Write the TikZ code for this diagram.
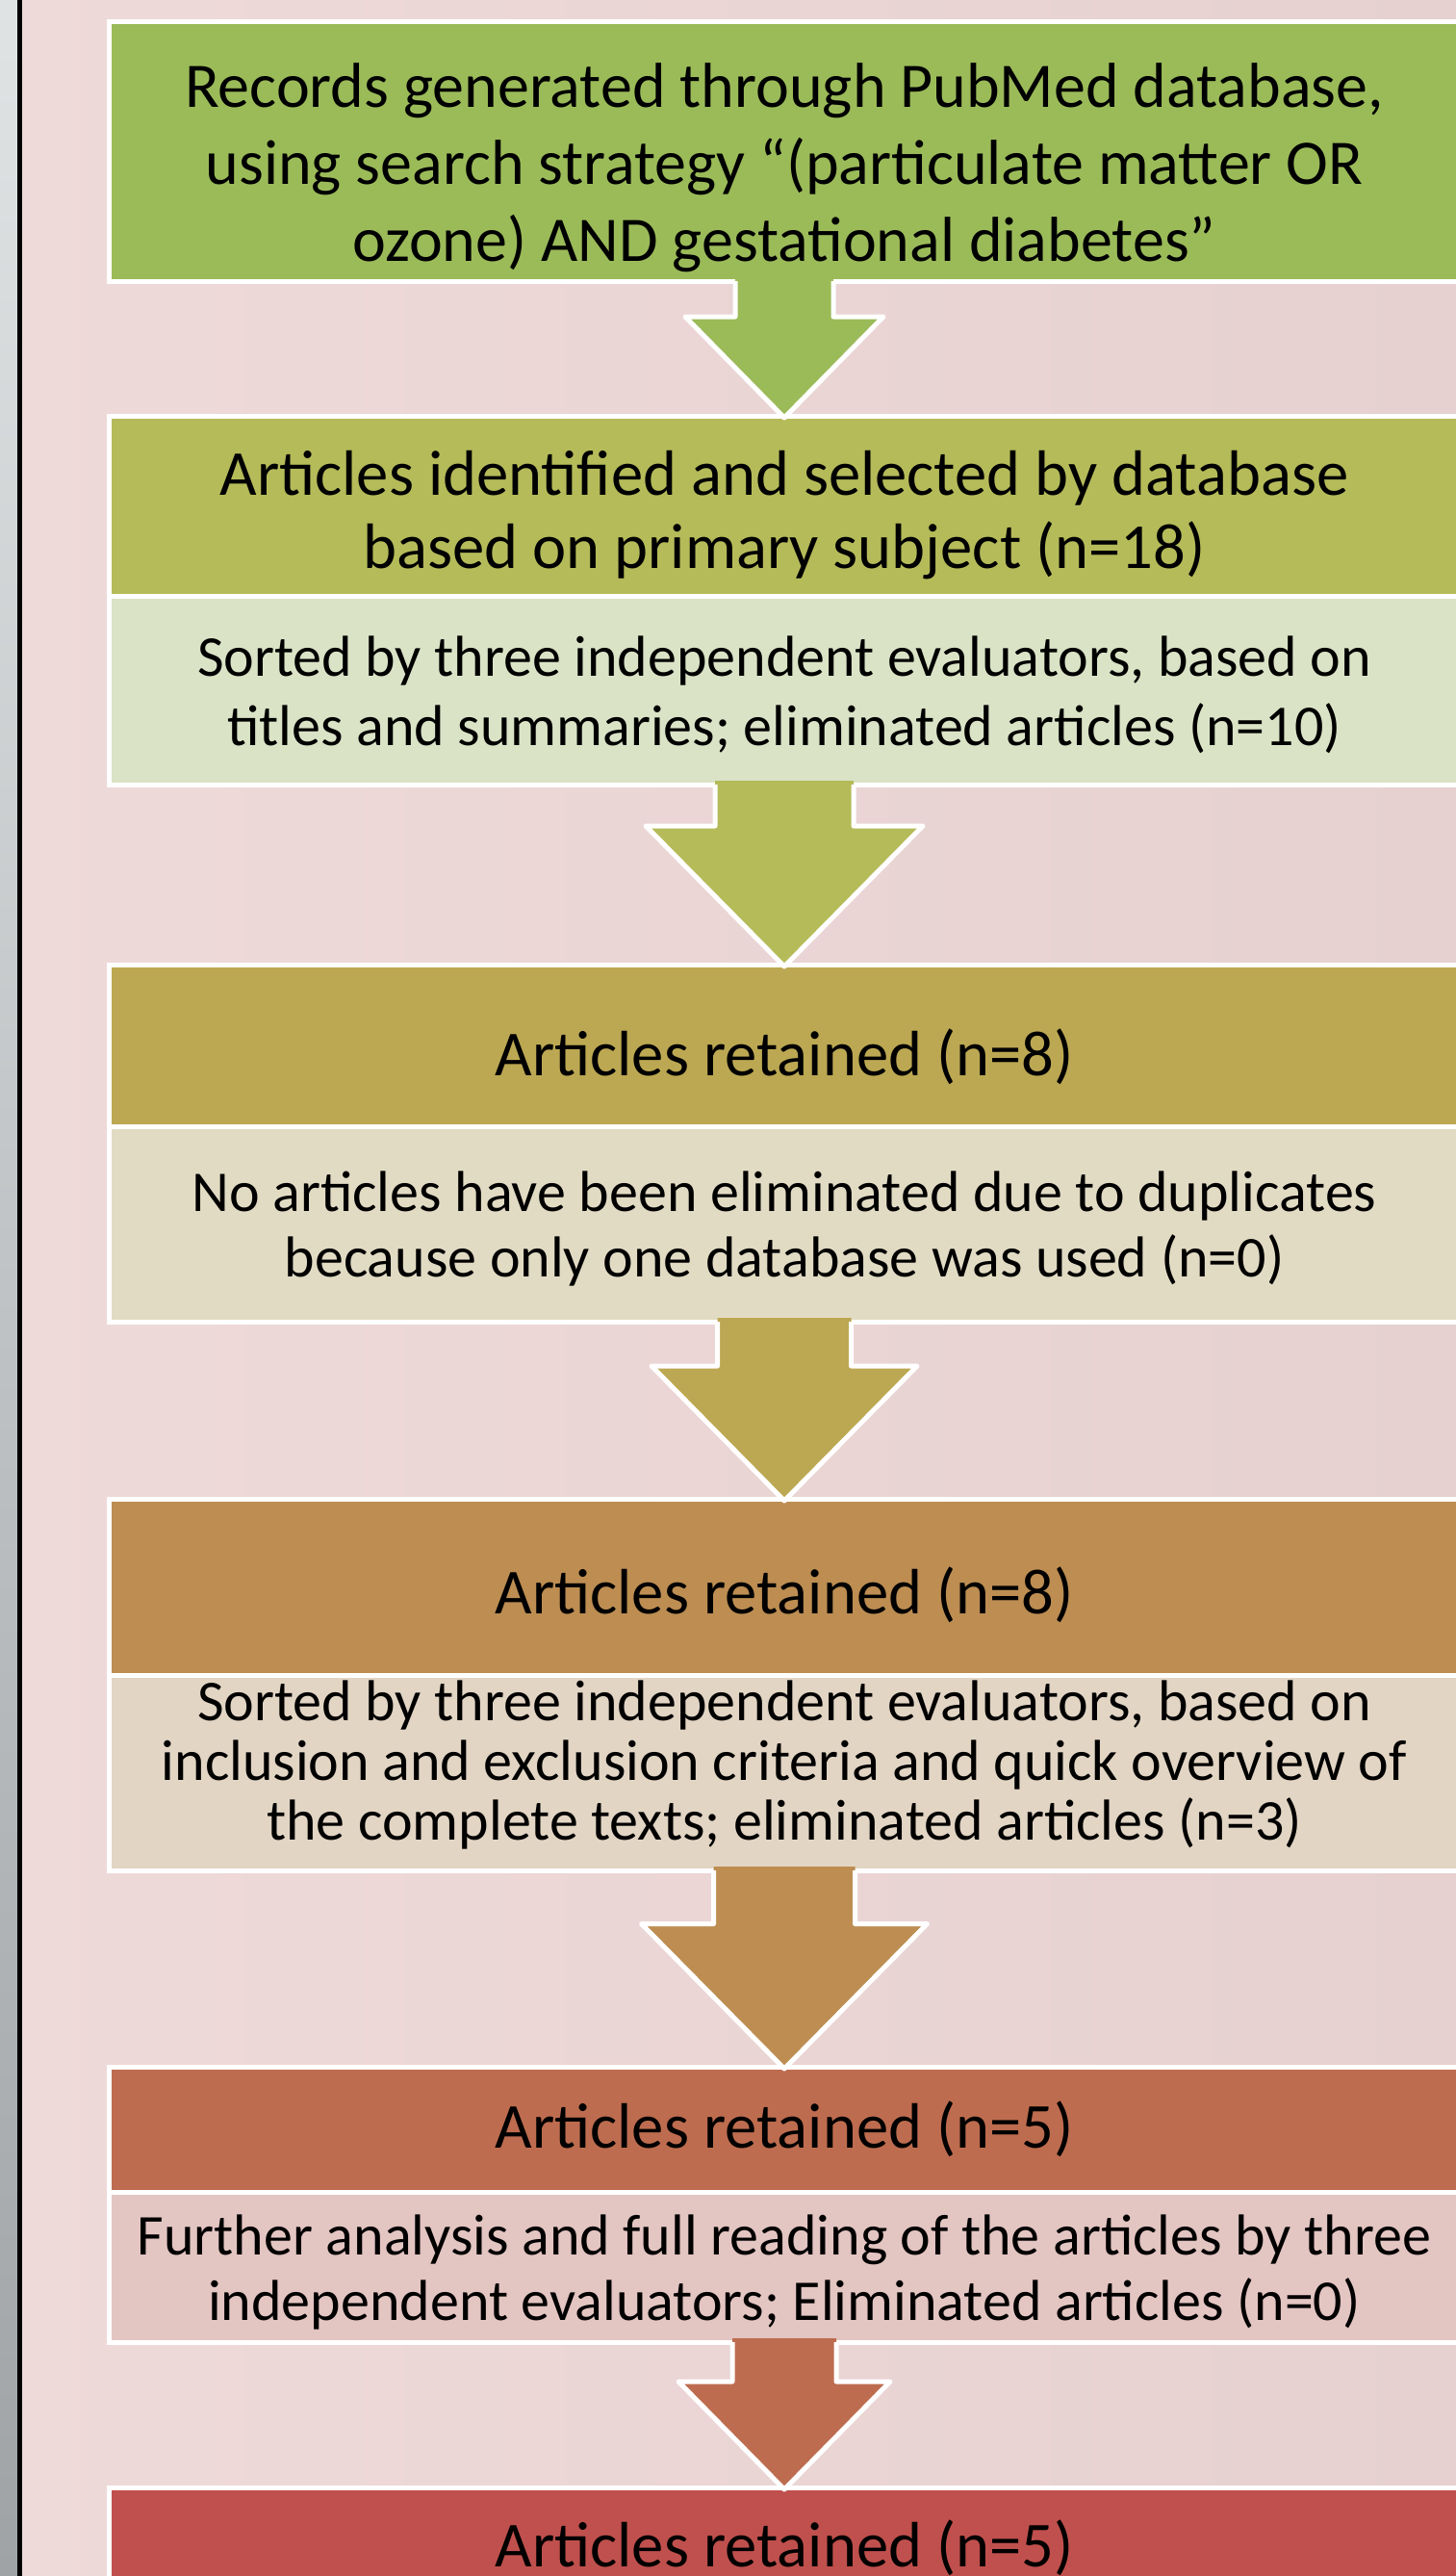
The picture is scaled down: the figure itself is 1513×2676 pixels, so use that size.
\documentclass[tikz,border=0pt]{standalone}
\usepackage{fontspec}
\setmainfont{Carlito}
\usetikzlibrary{calc}
\definecolor{bgL}{HTML}{EFDADA}
\definecolor{bgR}{HTML}{E6D0D0}
\definecolor{stripT}{HTML}{DFE3E4}
\definecolor{stripB}{HTML}{9FA3A6}
\definecolor{cA}{HTML}{9BBB59}
\definecolor{cBh}{HTML}{B5BB59}
\definecolor{cBs}{HTML}{DAE3C6}
\definecolor{cCh}{HTML}{BCA852}
\definecolor{cCs}{HTML}{E2DBC4}
\definecolor{cDh}{HTML}{BD8D52}
\definecolor{cDs}{HTML}{E2D5C4}
\definecolor{cEh}{HTML}{BE6C4F}
\definecolor{cEs}{HTML}{E3C5C2}
\definecolor{cF}{HTML}{C0504D}
\tikzset{
  cardbox/.style={draw=white, line width=2.5pt, minimum width=702pt, inner sep=0pt,
    outer sep=0pt, anchor=north},
  cardtext/.style={inner sep=0pt, align=center, text=black},
}
\newcommand\blockarrow[5]{%
  \fill[#5] ($(#1.south)+(-#3,-4)$) -- ($(#2.north)+(-#3,-#4)$) -- ($(#2.north)+(-#4,-#4)$)
    -- ($(#2.north)+(0,2)$) -- ($(#2.north)+(#4,-#4)$) -- ($(#2.north)+(#3,-#4)$)
    -- ($(#1.south)+(#3,-4)$) -- cycle;
  \draw[white, line width=2.5pt, line join=round] ($(#1.south)+(-#3,0)$) -- ($(#2.north)+(-#3,-#4)$)
    -- ($(#2.north)+(-#4,-#4)$) -- ($(#2.north)+(0,2)$) -- ($(#2.north)+(#4,-#4)$)
    -- ($(#2.north)+(#3,-#4)$) -- ($(#1.south)+(#3,0)$);
}
\begin{document}
\begin{tikzpicture}[x=0.5pt,y=-0.5pt]
\useasboundingbox (0,0) rectangle (1513,2676);
\begin{scope}
\clip (0,0) rectangle (1513,2676);
\shade[left color=bgL, right color=bgR] (0,0) rectangle (1513,2676);
\shade[top color=stripT, bottom color=stripB] (0,0) rectangle (18,2676);
\fill[black] (18,0) rectangle (23,2676);

% boxes
\node[cardbox, fill=cA, minimum height=134.5pt] (b1) at (815,23) {};
\node[cardbox, fill=cBh, minimum height=93.5pt] (b2h) at (815,432) {};
\node[cardbox, fill=cBs, minimum height=98pt] (b2s) at (815,619) {};
\node[cardbox, fill=cCh, minimum height=84pt] (b3h) at (815,1002) {};
\node[cardbox, fill=cCs, minimum height=101.5pt] (b3s) at (815,1170) {};
\node[cardbox, fill=cDh, minimum height=91.5pt] (b4h) at (815,1557) {};
\node[cardbox, fill=cDs, minimum height=101.5pt] (b4s) at (815,1740) {};
\node[cardbox, fill=cEh, minimum height=65pt] (b5h) at (815,2147) {};
\node[cardbox, fill=cEs, minimum height=78pt] (b5s) at (815,2277) {};
\node[cardbox, fill=cF, minimum height=65pt] (b6) at (815,2584) {};

% texts
\node[cardtext, font=\fontsize{33}{40}\selectfont] (t1) at ($(b1.center)+(0,17)$)
  {Records generated through PubMed database,\\using search strategy “(particulate matter OR\\ozone) AND gestational diabetes”};
\node[cardtext, font=\fontsize{33.3}{38}\selectfont] (t2h) at ($(b2h.center)+(0,10)$)
  {Articles identified and selected by database\\based on primary subject (n=18)};
\node[cardtext, font=\fontsize{30}{36}\selectfont] (t2s) at ($(b2s.center)+(0,5)$)
  {Sorted by three independent evaluators, based on\\titles and summaries; eliminated articles (n=10)};
\node[cardtext, font=\fontsize{33.3}{40}\selectfont] (t3h) at ($(b3h.center)+(0,12)$)
  {Articles retained (n=8)};
\node[cardtext, font=\fontsize{30}{34}\selectfont] (t3s) at ($(b3s.center)+(0,5)$)
  {No articles have been eliminated due to duplicates\\because only one database was used (n=0)};
\node[cardtext, font=\fontsize{33.3}{40}\selectfont] (t4h) at ($(b4h.center)+(0,8)$)
  {Articles retained (n=8)};
\node[cardtext, font=\fontsize{30}{31}\selectfont] (t4s) at ($(b4s.center)+(0,-8)$)
  {Sorted by three independent evaluators, based on\\inclusion and exclusion criteria and quick overview of\\the complete texts; eliminated articles (n=3)};
\node[cardtext, font=\fontsize{33.3}{40}\selectfont] (t5h) at ($(b5h.center)+(0,0)$)
  {Articles retained (n=5)};
\node[cardtext, font=\fontsize{30}{34}\selectfont] (t5s) at ($(b5s.center)+(0,5)$)
  {Further analysis and full reading of the articles by three\\independent evaluators; Eliminated articles (n=0)};
\node[cardtext, font=\fontsize{33.3}{40}\selectfont] (t6) at ($(b6.center)+(0,-2)$)
  {Articles retained (n=5)};

% block arrows
\blockarrow{b1}{b2h}{51}{103}{cA}
\blockarrow{b2s}{b3h}{72}{144}{cBh}
\blockarrow{b3s}{b4h}{69.5}{138}{cCh}
\blockarrow{b4s}{b5h}{73.5}{148.5}{cDh}
\blockarrow{b5s}{b6}{54}{110}{cEh}
\end{scope}
\end{tikzpicture}
\end{document}
